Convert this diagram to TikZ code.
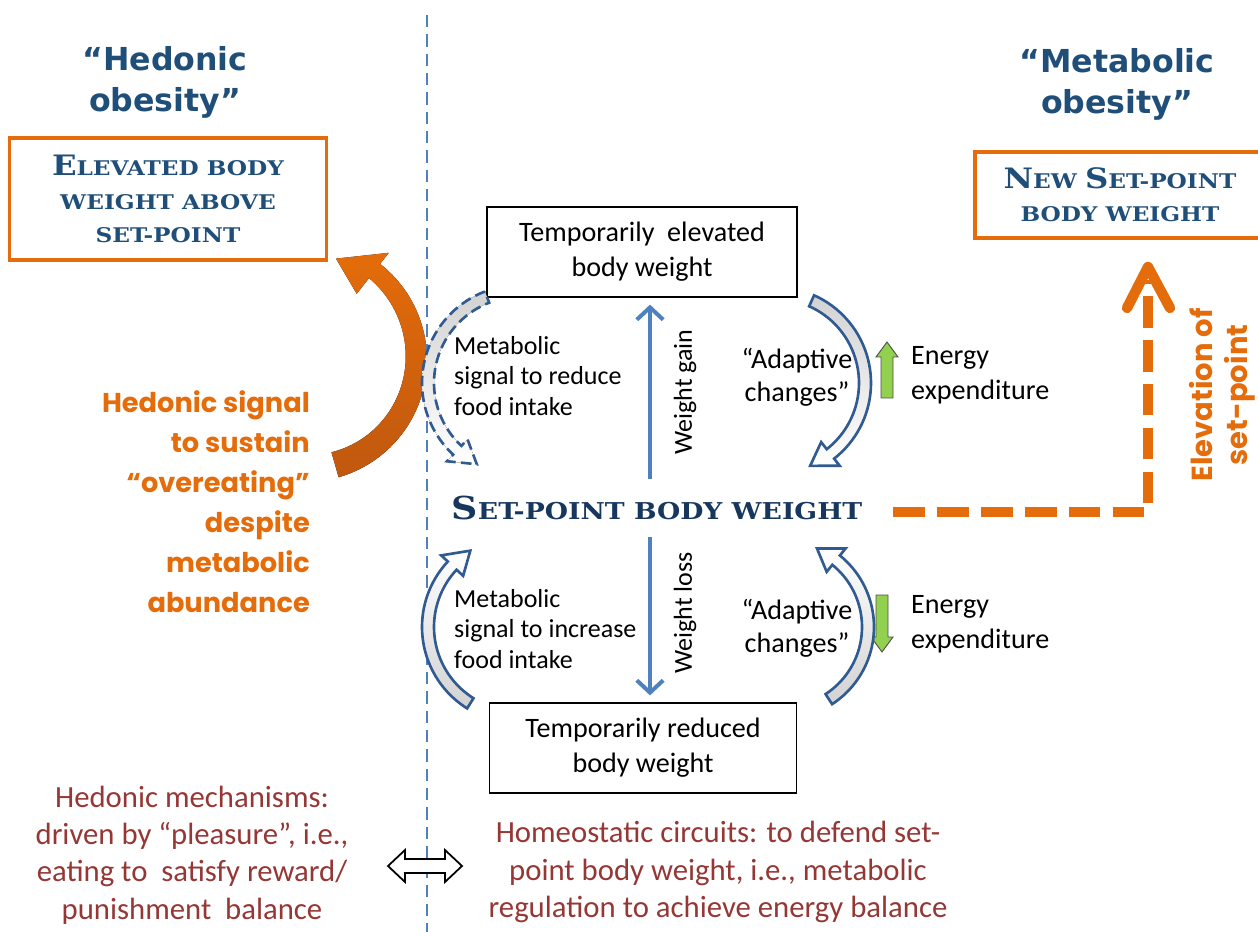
\documentclass[tikz,border=0pt]{standalone}
\usepackage{fontspec}
\setmainfont{Carlito}
\newfontfamily\hdrfont{DejaVu Sans}
\newfontfamily\cpfont[FakeStretch=1.15]{DejaVu Serif}
\newfontfamily\geofont{Poppins}
\usetikzlibrary{calc,arrows.meta}

\definecolor{navy}{HTML}{1F4E79}
\definecolor{deepnavy}{HTML}{17375E}
\definecolor{arrowblue}{HTML}{4F81BD}
\definecolor{rimblue}{HTML}{2F5A92}
\definecolor{pumpkin}{HTML}{E46C0A}
\definecolor{rust}{HTML}{C0580F}
\definecolor{brick}{HTML}{953735}
\definecolor{leaf}{HTML}{92D050}

% big letter inside the copperplate headings
\newcommand{\cpB}[1]{{\fontsize{16}{18}\selectfont #1}}

% curved block arrow: cx cy r a1 a3 a2 w hw style
\newcommand{\blockarc}[9]{%
  \filldraw[#9] plot[domain=#4:#5, samples=40] ({#1+(#3+#7)*cos(\x)},{#2+(#3+#7)*sin(\x)})
    -- ({#1+(#3+#8)*cos(#5)},{#2+(#3+#8)*sin(#5)})
    -- ({#1+#3*cos(#6)},{#2+#3*sin(#6)})
    -- ({#1+(#3-#8)*cos(#5)},{#2+(#3-#8)*sin(#5)})
    -- plot[domain=#5:#4, samples=40] ({#1+(#3-#7)*cos(\x)},{#2+(#3-#7)*sin(\x)})
    -- cycle;}

\tikzset{
  hdr/.style={text=navy, font=\hdrfont\bfseries\fontsize{18}{23.3}\selectfont, align=center},
  obox/.style={draw=pumpkin, line width=1.8pt, text=navy, align=center,
    font=\cpfont\bfseries\fontsize{11.5}{19}\selectfont},
  bbox/.style={draw=black, line width=0.7pt, align=center, font=\fontsize{16}{20}\selectfont},
  txt/.style={align=left, font=\fontsize{14.8}{17.6}\selectfont},
  mid/.style={align=center, font=\fontsize{16}{19}\selectfont},
  side/.style={align=left, font=\fontsize{16}{20}\selectfont},
  hsig/.style={text=pumpkin, align=right, font=\geofont\bfseries\fontsize{15.5}{22.8}\selectfont},
  redtxt/.style={text=brick, align=center, font=\fontsize{17.5}{21.3}\selectfont},
  bluearr/.style={draw=arrowblue, line width=2.3pt, -{Straight Barb[length=7pt,width=15pt]}},
  rim/.style={draw=rimblue, line width=1.5pt},
  orangedash/.style={draw=pumpkin, line width=5.9pt, dash pattern=on 18pt off 7pt},
}

\begin{document}
\begin{tikzpicture}[x=0.02cm, y=-0.02cm]
\useasboundingbox (0,0) rectangle (1258,932);

% hedonic side
\node[hdr] (hedob) at (165,82) {“Hedonic\\obesity”};
\node[obox, minimum width=6.34cm, minimum height=2.44cm] (elev) at (168,199)
  {\cpB{E}LEVATED BODY\\WEIGHT ABOVE\\SET-POINT};

% orange hedonic arrow
\filldraw[draw=none, top color=pumpkin, bottom color=rust]
  plot[domain=74:-52, samples=50] ({305+122*cos(\x)},{360+122*sin(\x)})
  -- ({305+136*cos(-52)},{360+136*sin(-52)})
  -- ({305+106*cos(-73)},{360+106*sin(-73)})
  -- ({305+84*cos(-52)},{360+84*sin(-52)})
  -- plot[domain=-52:74, samples=50] ({305+(104-(\x+52)/126*8)*cos(\x)},{360+(104-(\x+52)/126*8)*sin(\x)})
  -- cycle;

\node[hsig, anchor=east] (hedsig) at (316,502)
  {Hedonic signal\\to sustain\\“overeating”\\despite\\metabolic\\abundance};

% divider
\draw[arrowblue, line width=1.3pt, dash pattern=on 7pt off 4pt] (427,15) -- (427,932);

% metabolic side
\node[hdr] (metob) at (1117,84) {“Metabolic\\obesity”};
\node[obox, minimum width=5.8cm, minimum height=1.72cm] (newsp) at (1120,195)
  {\cpB{N}EW \cpB{S}ET-POINT\\BODY WEIGHT};

% centre
\node[bbox, minimum width=6.2cm, minimum height=1.8cm] (tempup) at (642,252)
  {Temporarily\ \ elevated\\body weight};
\node[bbox, minimum width=6.14cm, minimum height=1.8cm] (tempdn) at (643,748)
  {Temporarily reduced\\body weight};
\node[text=deepnavy, font=\cpfont\bfseries\fontsize{13.2}{15}\selectfont] (setpt) at (657,508)
  {{\fontsize{18}{18}\selectfont S}ET-POINT BODY WEIGHT};

\draw[bluearr, shorten <=6pt, shorten >=4pt] (setpt.north -| 650,0) -- (tempup.south -| 650,0);
\draw[bluearr, shorten <=6pt, shorten >=4pt] (setpt.south -| 650,0) -- (tempdn.north -| 650,0);
\node[txt, rotate=90] (wgain) at (685,392) {Weight gain};
\node[txt, rotate=90] (wloss) at (685,613) {Weight loss};

\node[txt, anchor=west] (sigred) at (448,376) {Metabolic\\signal to reduce\\food intake};
\node[txt, anchor=west] (siginc) at (448,629) {Metabolic\\signal to increase\\food intake};
\node[mid] (adup) at (797,377) {“Adaptive\\changes”};
\node[mid] (addn) at (797,628) {“Adaptive\\changes”};
\node[side, anchor=west] (eeup) at (905,375) {Energy\\expenditure};
\node[side, anchor=west] (eedn) at (905,624) {Energy\\expenditure};

% small green arrows
\filldraw[fill=leaf, draw=black!70, line width=0.5pt]
  (881,398) -- (881,357) -- (876,357) -- (887,342) -- (898,357) -- (893,357) -- (893,398) -- cycle;
\filldraw[fill=leaf, draw=black!70, line width=0.5pt]
  (876,595) -- (876,637) -- (871,637) -- (882,652) -- (893,637) -- (888,637) -- (888,595) -- cycle;

% curved feedback arrows
\blockarc{775}{383}{90}{-66}{52}{67}{6}{15}{rim, top color=gray!35, middle color=white, bottom color=white}
\blockarc{782}{627}{86}{57}{-51}{-66}{6}{15}{rim, top color=white, middle color=white, bottom color=gray!35}
\blockarc{518}{627}{90}{122}{223}{238}{6}{15}{rim, top color=white, middle color=white, bottom color=gray!35}
\blockarc{520}{383}{92}{249}{133}{118}{6}{15}{rim, dash pattern=on 6pt off 3pt, top color=gray!35, middle color=white, bottom color=white}

% elevation of set-point
\coordinate (riseend) at (1148,280);
\draw[orangedash, shorten <=14pt] ([yshift=-0.08cm]setpt.east) -| (riseend);
\draw[pumpkin, line width=5.9pt, line cap=round, line join=round]
  ($(riseend)+(-21,28)$) -- ($(riseend)+(0,-13)$) -- ($(riseend)+(22,28)$);
\node[text=pumpkin, align=center, rotate=90, font=\geofont\bfseries\fontsize{16.5}{20}\selectfont] (elevsp) at (1222,395)
  {Elevation of\\set-point};

% bottom texts
\node[redtxt] (hedmech) at (192,855)
  {Hedonic mechanisms:\\driven by “pleasure”, i.e.,\\eating to\ \ satisfy reward/\\punishment\ \ balance};
\node[redtxt] (homeo) at (718,872)
  {Homeostatic circuits: to defend set-\\point body weight, i.e., metabolic\\regulation to achieve energy balance};
\filldraw[fill=white, draw=black, line width=1pt]
  (388,866) -- (405,850) -- (405,859) -- (445,859) -- (445,850) -- (462,866)
  -- (445,882) -- (445,873) -- (405,873) -- (405,882) -- cycle;
\end{tikzpicture}
\end{document}
